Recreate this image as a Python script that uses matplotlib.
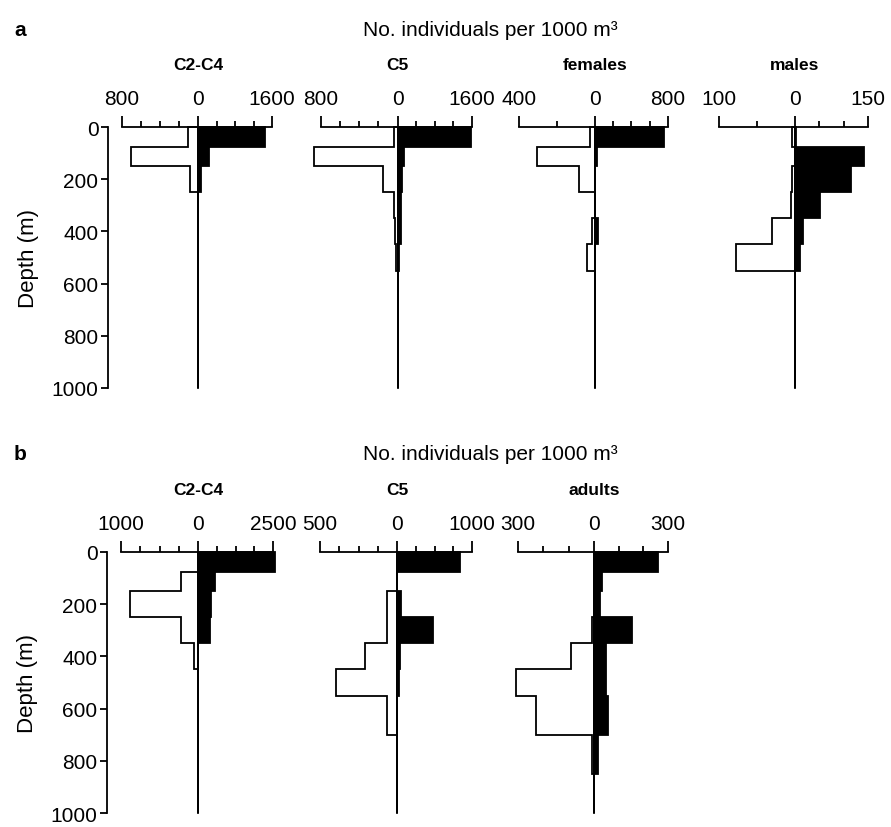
import numpy as np
import matplotlib.pyplot as plt

plt.rcParams['font.family'] = ['Liberation Sans', 'DejaVu Sans']

# depth bins (m), shared by every profile
depth_edges = [0, 75, 150, 250, 350, 450, 550, 700, 850, 1000]

# --- a: stages, open = left scale, filled = right scale ---
c2c4_a_open = [105, 709, 88, 0, 0, 0, 0, 0, 0]
c2c4_a_fill = [1441, 231, 72, 0, 0, 0, 0, 0, 0]
c5_a_open = [42, 870, 154, 42, 24, 17, 0, 0, 0]
c5_a_fill = [1586, 143, 93, 72, 72, 22, 0, 0, 0]
fem_a_open = [26, 303, 84, 0, 14, 39, 0, 0, 0]
fem_a_fill = [753, 29, 4, 0, 36, 8, 0, 0, 0]
male_a_open = [3, 0, 4, 5, 30, 78, 0, 0, 0]
male_a_fill = [3, 141, 115, 52, 18, 10, 0, 0, 0]

# --- b ---
c2c4_b_open = [0, 218, 882, 218, 52, 0, 0, 0, 0]
c2c4_b_fill = [2555, 548, 417, 384, 0, 0, 0, 0, 0]
c5_b_open = [0, 0, 65, 65, 209, 397, 65, 0, 0]
c5_b_fill = [843, 0, 45, 475, 36, 30, 0, 0, 0]
adult_b_open = [0, 0, 0, 9, 91, 307, 228, 10, 0]
adult_b_fill = [259, 30, 23, 154, 48, 48, 57, 14, 0]

titles_a = ["C2-C4", "C5", "females", "males"]
titles_b = ["C2-C4", "C5", "adults"]
# (left max, right max, left divisions, right divisions)
scales_a = [(800, 1600, 4, 4), (800, 1600, 4, 4), (400, 800, 2, 4), (100, 150, 2, 3)]
scales_b = [(1000, 2500, 4, 4), (500, 1000, 4, 4), (300, 300, 3, 3)]

W, H = 891, 828
RW = 0.97  # right half width relative to left half
LW = 1.3


def outline(vals, sign):
    xs, ys = [0], [depth_edges[0]]
    for i, v in enumerate(vals):
        xs += [sign * v, sign * v]
        ys += [depth_edges[i], depth_edges[i + 1]]
    xs.append(0)
    ys.append(depth_edges[-1])
    return np.array(xs, float), np.array(ys, float)


def panel(x0, x1, ytop, title, scale, open_vals, fill_vals, first):
    lmax, rmax, ldiv, rdiv = scale
    ax = fig.add_axes([x0 / W, 1 - (ytop + 261) / H, (x1 - x0) / W, 261 / H])
    ax.set_xlim(-1, RW)
    ax.set_ylim(1000, 0)

    xs, ys = outline(open_vals, -1)
    ax.fill(xs / lmax, ys, facecolor="white", edgecolor="black", lw=LW, clip_on=False)
    xs, ys = outline(fill_vals, 1)
    ax.fill(xs / rmax * RW, ys, facecolor="black", edgecolor="black", lw=LW, clip_on=False)
    ax.plot([0, 0], [0, 1000], color="black", lw=LW, clip_on=False)

    for s in ["bottom", "right", "left"]:
        ax.spines[s].set_visible(False)
    ax.spines["top"].set_linewidth(LW)
    ax.xaxis.set_ticks_position("top")
    ax.set_xticks([-1, 0, RW])
    ax.set_xticklabels([str(lmax), "0", str(rmax)])
    minors = [-k / ldiv for k in range(1, ldiv)] + [RW * k / rdiv for k in range(1, rdiv)]
    ax.set_xticks(minors, minor=True)
    ax.tick_params(axis="x", which="major", direction="out", length=8, width=LW,
                   pad=6, labelsize=15)
    ax.tick_params(axis="x", which="minor", direction="out", length=4, width=LW)

    if first:
        ax.spines["left"].set_visible(True)
        ax.spines["left"].set_linewidth(LW)
        ax.spines["left"].set_position(("outward", 10))
        ax.spines["left"].set_bounds(0, 1000)
        ax.set_yticks(range(0, 1001, 200))
        ax.tick_params(axis="y", direction="out", length=5, width=LW, labelsize=15, pad=2)
        ax.set_ylabel("Depth (m)", fontsize=16, labelpad=9)
    else:
        ax.set_yticks([])

    zx = (x0 + (x1 - x0) / (1 + RW)) / W
    fig.text(zx, 1 - (ytop - 62) / H, title, ha="center", va="center",
             fontsize=12.5, fontweight="bold")
    return ax


fig = plt.figure(figsize=(W / 100, H / 100), dpi=100)

xa = [(122, 272), (321, 472), (519, 668), (719, 868)]
opens_a = [c2c4_a_open, c5_a_open, fem_a_open, male_a_open]
fills_a = [c2c4_a_fill, c5_a_fill, fem_a_fill, male_a_fill]
for i in range(4):
    panel(xa[i][0], xa[i][1], 128, titles_a[i], scales_a[i], opens_a[i], fills_a[i], i == 0)

xb = [(121, 273), (320, 472), (518, 668)]
opens_b = [c2c4_b_open, c5_b_open, adult_b_open]
fills_b = [c2c4_b_fill, c5_b_fill, adult_b_fill]
for i in range(3):
    panel(xb[i][0], xb[i][1], 553, titles_b[i], scales_b[i], opens_b[i], fills_b[i], i == 0)

for lab, ytop in [("a", 128), ("b", 553)]:
    fig.text(14 / W, 1 - (ytop - 98) / H, lab, ha="left", va="center",
             fontsize=15, fontweight="bold")
    fig.text(490 / W, 1 - (ytop - 98) / H, "No. individuals per 1000 m³",
             ha="center", va="center", fontsize=15)

fig.savefig("out.png", dpi=100)
